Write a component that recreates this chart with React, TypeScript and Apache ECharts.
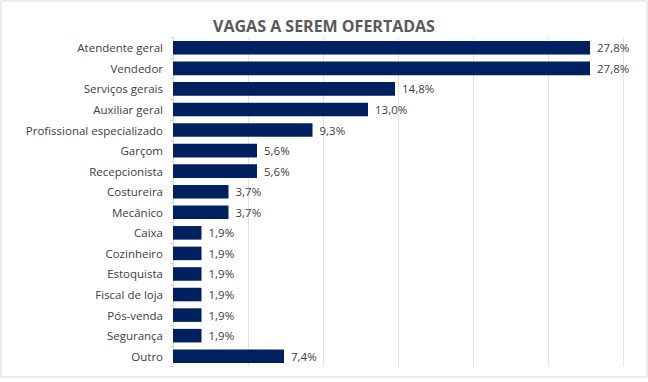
import React, { useEffect, useRef } from "react";
import * as echarts from "echarts";

const categories = [
  "Atendente geral",
  "Vendedor",
  "Serviços gerais",
  "Auxiliar geral",
  "Profissional especializado",
  "Garçom",
  "Recepcionista",
  "Costureira",
  "Mecânico",
  "Caixa",
  "Cozinheiro",
  "Estoquista",
  "Fiscal de loja",
  "Pós-venda",
  "Segurança",
  "Outro",
];
const values = [27.8, 27.8, 14.8, 13.0, 9.3, 5.6, 5.6, 3.7, 3.7, 1.9, 1.9, 1.9, 1.9, 1.9, 1.9, 7.4];
const title = "VAGAS A SEREM OFERTADAS";

const FONT = "'Open Sans', sans-serif";

export default function App() {
  const ref = useRef<HTMLDivElement>(null);
  useEffect(() => {
    if (!ref.current) return;
    const chart = echarts.init(ref.current, null, { renderer: "svg" });
    chart.setOption({
      animation: false,
      backgroundColor: "#ffffff",
      title: {
        text: title,
        left: "center",
        top: 13,
        textStyle: { fontFamily: FONT, fontSize: 16, fontWeight: "bold", color: "#595959" },
      },
      graphic: [
        {
          type: "rect",
          shape: { x: 1, y: 1, width: 646, height: 376 },
          style: { fill: "none", stroke: "#d9d9d9", lineWidth: 1 },
          silent: true,
        },
      ],
      grid: { left: 173, right: 25, top: 37.5, bottom: 15.5, containLabel: false },
      xAxis: {
        type: "value",
        min: 0,
        max: 30,
        interval: 5,
        axisLabel: { show: false },
        axisLine: { show: false },
        axisTick: { show: false },
        splitLine: { show: true, lineStyle: { color: "#e3e3e3", width: 1 } },
      },
      yAxis: {
        type: "category",
        inverse: true,
        data: categories,
        axisLine: { show: true, lineStyle: { color: "#d9d9d9" } },
        axisTick: { show: true, length: 3, lineStyle: { color: "#d9d9d9" } },
        axisLabel: { fontFamily: FONT, fontSize: 11.5, color: "#404040", margin: 10 },
      },
      series: [
        {
          type: "bar",
          data: values,
          barCategoryGap: "34%",
          itemStyle: { color: "#002060" },
          label: {
            show: true,
            position: "right",
            distance: 7,
            fontFamily: FONT,
            fontSize: 11.5,
            color: "#404040",
            formatter: (p: any) => p.value.toFixed(1).replace(".", ",") + "%",
          },
        },
      ],
    });
    return () => chart.dispose();
  }, []);
  return <div ref={ref} style={{ width: 648, height: 382, position: "absolute", left: 0, top: 0 }} />;
}
